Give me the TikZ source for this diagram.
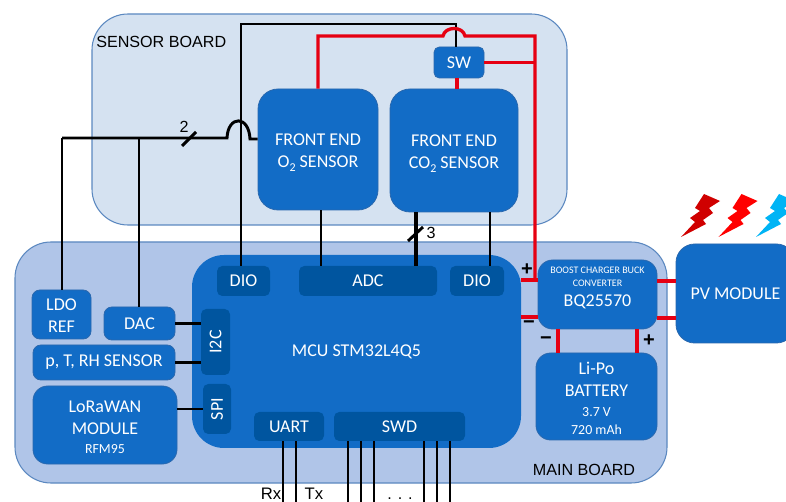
\documentclass[tikz,border=0pt]{standalone}
\usepackage{fontspec}
\setmainfont{Carlito}
\newfontfamily\labelfont{Liberation Sans}
\newcommand{\lowtwo}{\raisebox{-0.45ex}{\fontsize{9}{9}\selectfont 2}}
\definecolor{sensorfill}{HTML}{D5E2F1}
\definecolor{mainfill}{HTML}{B0C5E8}
\definecolor{boardedge}{HTML}{5B88C0}
\definecolor{blockblue}{HTML}{126CC6}
\definecolor{blockedge}{HTML}{2A68AE}
\definecolor{portblue}{HTML}{00559F}
\definecolor{wirered}{HTML}{E60012}
\definecolor{boltdark}{HTML}{D00000}
\definecolor{boltcyan}{HTML}{00B4F5}
\tikzset{
  board/.style={draw=boardedge, line width=0.8pt, rounded corners=27pt},
  block/.style={draw=blockedge, line width=0.6pt, fill=blockblue, text=white, align=center,
    inner sep=0pt, rounded corners=6pt, font=\fontsize{13.5}{16.5}\selectfont},
  port/.style={fill=portblue, text=white, align=center, inner sep=0pt, rounded corners=4pt,
    font=\fontsize{13.5}{16.5}\selectfont},
  label/.style={text=black, inner sep=0pt, font=\labelfont\fontsize{12.1}{15}\selectfont},
  sign/.style={text=black, inner sep=0pt, font=\labelfont\bfseries\fontsize{15}{15}\selectfont},
  wire/.style={black, line width=1.8pt},
  thinwire/.style={black, line width=1.1pt},
  buswire/.style={black, line width=2.6pt},
  redwire/.style={wirered, line width=2.5pt}
}
\begin{document}
\begin{tikzpicture}[x=0.75pt, y=-0.75pt]
  \clip (0,0) rectangle (786,502);
  \useasboundingbox (0,0) rectangle (786,502);
  % boards
  \fill [white] (0,0) rectangle (786,502);
  \draw [board, fill=sensorfill] (92,14) rectangle (567,225);
  \draw [board, fill=mainfill] (15,242) rectangle (667,483);
  \node at (96,42) [label, anchor=west] (sensorlabel) {SENSOR BOARD};
  \node at (584,470) [label] (mainlabel) {MAIN BOARD};

  % sensor board
  \node at (318,149.5) [block, rounded corners=15pt, minimum width=90pt, minimum height=90.75pt] (otwo) {\rule{0pt}{13pt}FRONT END\\O\lowtwo{} SENSOR};
  \node at (454,150.5) [block, rounded corners=15pt, minimum width=96pt, minimum height=92.25pt] (cotwo) {\rule{0pt}{13pt}FRONT END\\CO\lowtwo{} SENSOR};
  \node at (459,62.5) [block, rounded corners=4pt, minimum width=37.5pt, minimum height=23.25pt] (sw) {SW};

  % main board
  \node at (356.5,351.5) [block, draw=none, rounded corners=24pt, minimum width=246.75pt, minimum height=144.75pt] (mcu) {MCU STM32L4Q5};
  \node at (243.5,281) [port, minimum width=39.75pt, minimum height=22.5pt] (diol) {DIO};
  \node at (368,281) [port, minimum width=103.5pt, minimum height=22.5pt] (adc) {ADC};
  \node at (477,281) [port, minimum width=40.5pt, minimum height=22.5pt] (dior) {DIO};
  \node at (215.5,342) [port, rotate=90, minimum width=49.5pt, minimum height=21.75pt] (itc) {I2C};
  \node at (217,409) [port, rotate=90, minimum width=37.5pt, minimum height=21pt] (spi) {SPI};
  \node at (289,426.5) [port, minimum width=52.5pt, minimum height=21.75pt] (uart) {UART};
  \node at (399.5,426.5) [port, minimum width=98.25pt, minimum height=21.75pt] (swd) {SWD};
  \node at (61.5,314.5) [block, minimum width=44.25pt, minimum height=36.75pt] (ldo) {\rule{0pt}{10pt}LDO\\REF};
  \node at (139.5,323.5) [block, minimum width=53.25pt, minimum height=24.75pt] (dac) {DAC};
  \node at (104,362.5) [block, minimum width=106.5pt, minimum height=26.25pt] (rhsensor) {p, T, RH SENSOR};
  \node at (105,425) [block, rounded corners=11pt, minimum width=108pt, minimum height=58.5pt] (lora) {\rule{0pt}{12pt}LoRaWAN\\MODULE\\[-2pt]{\fontsize{10.4}{12}\selectfont RFM95}};
  \node at (597.5,294.5) [block, rounded corners=11pt, minimum width=89.25pt, minimum height=51.75pt] (charger) {{\fontsize{7.5}{9.5}\selectfont BOOST CHARGER BUCK}\\[-6.75pt]{\fontsize{7.5}{9.5}\selectfont CONVERTER}\\[-1.5pt]BQ25570\rule[-12pt]{0pt}{1pt}};
  \node at (596.5,396.5) [block, rounded corners=11pt, minimum width=90.75pt, minimum height=65.25pt] (battery) {\rule{0pt}{12pt}Li-Po\\BATTERY\\[-2pt]{\fontsize{10.4}{13.5}\selectfont 3.7 V}\\[-3pt]{\fontsize{10.4}{13}\selectfont 720 mAh}};
  \node at (735.5,293.5) [block, rounded corners=14pt, minimum width=89.25pt, minimum height=74.25pt] (pv) {PV MODULE};

  % bolts
  \foreach \dx/\boltcol in {0/boltdark, 37.5/red, 75/boltcyan} {
    \fill [\boltcol, xshift=\dx*0.75pt] (704,194) -- (720,201) -- (709,208) -- (713,213) -- (703,220)
      -- (706,224) -- (681,237) -- (695,222) -- (690,218) -- (700,211) -- (695,208) -- cycle;
  }

  % free ends and joints
  \coordinate (busleft) at (62,138);
  \coordinate (busdac) at (139,138);
  \coordinate (jumpin) at (227,138);
  \coordinate (jumpout) at (250,139);
  \coordinate (topleft) at (241,24);
  \coordinate (topright) at (456,24);
  \coordinate (redleft) at (318,36);
  \coordinate (redin) at (443,36);
  \coordinate (redout) at (465,36);
  \coordinate (redright) at (535,36);
  \coordinate (redsw) at (535,62.5);
  \coordinate (redmcu) at (535,280);

  % sensor bus
  \draw [wire] (ldo.north -| busleft) -- (busleft);
  \draw [wire, line width=2.2pt] (busleft) -- (jumpin) .. controls (228,115) and (249,115) .. (jumpout) -- (jumpout -| otwo.west);
  \draw [wire] (dac.north -| busdac) -- (busdac);
  \draw [wire, line width=2.2pt] (182,146) -- (196,132);
  \node at (184,127) [label] (busnum) {2};

  % signals
  \draw [thinwire] (diol.north -| topleft) -- (topleft) -- (topright) -- (topright |- sw.north);
  \draw [wire, line width=2.1pt] (321,0 |- otwo.south) -- (321,0 |- adc.north);
  \draw [buswire] (416,0 |- cotwo.south) -- (416,0 |- adc.north);
  \draw [wire, line width=2.2pt] (408,241) -- (423,227);
  \node at (431,233) [label] (adcnum) {3};
  \draw [wire, line width=1.3pt] (490,0 |- cotwo.south) -- (490,0 |- dior.north);
  \draw [wire] (dac.east) -- (dac.east -| itc.north);
  \draw [wire, line width=2.1pt] (rhsensor.east) -- (rhsensor.east -| itc.north);
  \draw [wire] (spi.north -| lora.east) -- (spi.north);

  % power
  \draw [redwire] (otwo.north) -- (redleft) -- (redin) .. controls (445,26) and (463,26) .. (redout) -- (redright) -- (redmcu) -- (redmcu -| mcu.east);
  \draw [redwire] (sw.east) -- (redsw);
  \draw [redwire] (457,0 |- sw.south) -- (457,0 |- cotwo.north);
  \draw [redwire] (redmcu -| mcu.east) -- (redmcu -| charger.west);
  \draw [redwire] (521,317 -| mcu.east) -- (521,317 -| charger.west);
  \draw [redwire] (558,0 |- charger.south) -- (558,0 |- battery.north);
  \draw [redwire] (637,0 |- charger.south) -- (637,0 |- battery.north);
  \draw [redwire] (0,281 -| charger.east) -- (0,281 -| pv.west);
  \draw [redwire] (0,318 -| charger.east) -- (0,318 -| pv.west);
  \node at (527,270) [sign] (plusmcu) {+};
  \node at (529,325) [sign] (minusmcu) {−};
  \node at (546,341) [sign] (minusbat) {−};
  \node at (649,341) [sign] (plusbat) {+};

  % bottom connections
  \foreach \wx in {283,296} {
    \draw [thinwire, line width=1.3pt] (\wx,0 |- uart.south) -- (\wx,502);
  }
  \foreach \wx in {348,361,374,424,437,450} {
    \draw [wire, line width=2pt] (\wx,0 |- swd.south) -- (\wx,502);
  }
  \node at (271,499.5) [label, anchor=base, font=\labelfont\fontsize{12.5}{15}\selectfont] (rxlabel) {Rx};
  \node at (314,499.5) [label, anchor=base, font=\labelfont\fontsize{12.5}{15}\selectfont] (txlabel) {Tx};
  \node at (400,499.5) [label, anchor=base] (dots) {. . .};
\end{tikzpicture}
\end{document}
